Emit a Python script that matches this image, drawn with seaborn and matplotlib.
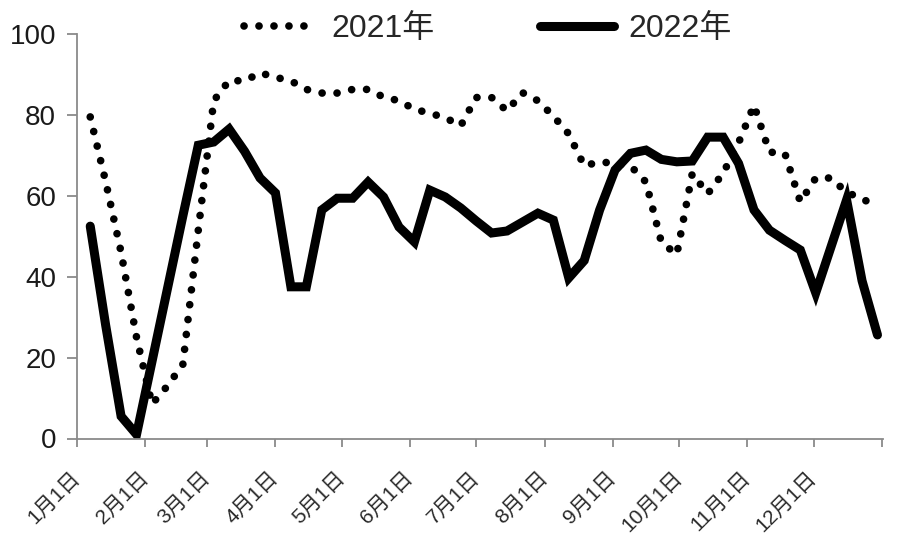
import matplotlib
matplotlib.use("Agg")
import matplotlib.pyplot as plt
import seaborn as sns
import numpy as np
import pandas as pd

# ---- data ----
week_dates = pd.date_range("2022-01-07", periods=52, freq="7D")
series_2021 = [79.5, 63.5, 46, 25, 8.5, 13, 18.3, 51.5, 83.5, 88.5,
               88.4, 90.4, 89.3, 88.4, 86.3, 85.4, 85.4, 86.3, 86.3, 84.4,
               83.5, 81.4, 80.4, 79.3, 77.3, 84.3, 84.3, 81, 85.5, 83.5,
               79.7, 75.3, 67.4, 68.4, 68, 67.4, 63.4, 48.5, 45.5, 65.5,
               60.5, 65.6, 73.1, 82.4, 70.8, 70.5, 58.5, 64.4, 64.4, 60.8,
               59.4, 56.9]
series_2022 = [52.5, 28, 5.5, 1, 19, 37, 55, 72.5, 73.3, 76.5,
               71, 64.4, 60.7, 37.5, 37.5, 56.5, 59.4, 59.4, 63.4, 59.7,
               52.3, 48.6, 61.4, 59.7, 57, 53.8, 50.8, 51.3, 53.5, 55.7,
               54, 39.7, 44, 56.5, 66.4, 70.5, 71.3, 69, 68.4, 68.6,
               74.5, 74.5, 68, 56.5, 51.5, 49, 46.6, 36, 47.5, 59,
               39, 25.6]
month_labels = ["1月1日", "2月1日", "3月1日", "4月1日", "5月1日", "6月1日",
                "7月1日", "8月1日", "9月1日", "10月1日", "11月1日", "12月1日"]
month_starts = pd.date_range("2022-01-01", periods=13, freq="MS")
y_ticks = [0, 20, 40, 60, 80, 100]

# day-of-year (Jan 1 = 0)
x_days = (week_dates.dayofyear - 1).to_numpy()
tick_days = [(d - pd.Timestamp("2022-01-01")).days for d in month_starts]

df = pd.DataFrame({"day": x_days, "2021年": series_2021, "2022年": series_2022})

sns.set_theme(style="white")
plt.rcParams["font.family"] = ["Liberation Sans", "Noto Sans CJK SC", "DejaVu Sans"]

fig = plt.figure(figsize=(9, 5.44), dpi=100)
ax = fig.add_axes([77 / 900, 105.5 / 544, 806 / 900, 404.5 / 544])

sns.lineplot(data=df, x="day", y="2021年", ax=ax, color="black", linewidth=5.5,
             linestyle=(0, (0.01, 1.95)), dash_capstyle="round", label="2021年")
sns.lineplot(data=df, x="day", y="2022年", ax=ax, color="black", linewidth=6.5,
             solid_joinstyle="miter", label="2022年")

ax.set_xlim(0, 365.5)
ax.set_ylim(0, 100)
ax.set_yticks(y_ticks)
ax.set_yticklabels([str(v) for v in y_ticks], fontsize=20, color="#1a1a1a")
ax.set_xticks(tick_days)
ax.set_xticklabels(month_labels + [""], fontsize=15, color="#2a2a2a",
                   rotation=45, ha="right", va="center", rotation_mode="anchor")
ax.set_xlabel("")
ax.set_ylabel("")

for side in ["top", "right"]:
    ax.spines[side].set_visible(False)
for side in ["left", "bottom"]:
    ax.spines[side].set_color("#8a8a8a")
    ax.spines[side].set_linewidth(1.3)

ax.tick_params(axis="y", which="major", direction="out", length=7, width=1.3,
               color="#8a8a8a", pad=8, left=True)
ax.tick_params(axis="x", which="major", direction="out", length=6, width=1.3,
               color="#8a8a8a", pad=20, bottom=True)

handles, labels = ax.get_legend_handles_labels()
ax.get_legend().remove()
fig.legend(handles, labels, loc="center", bbox_to_anchor=(0.542, 0.947), ncol=2,
           frameon=False, prop={"family": ["Liberation Sans", "Noto Sans CJK SC"], "size": 23},
           handlelength=2.3, columnspacing=3.3, handletextpad=0.45)

fig.savefig("out.png", dpi=100)
